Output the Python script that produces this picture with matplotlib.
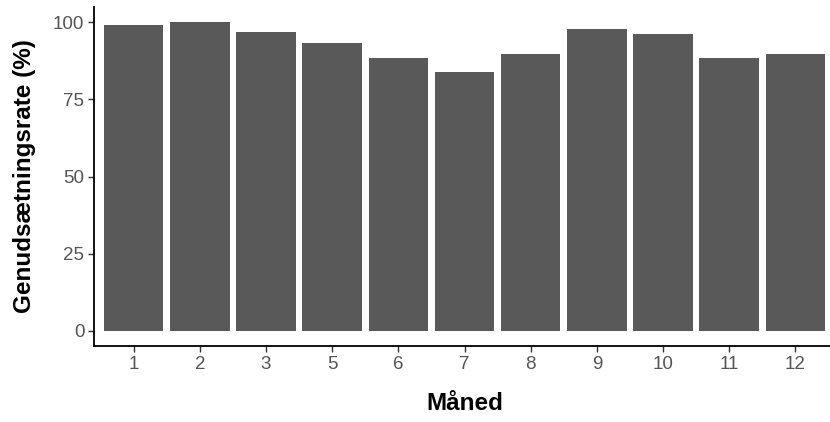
import matplotlib
matplotlib.use("Agg")
import matplotlib.pyplot as plt

months = ["1", "2", "3", "5", "6", "7", "8", "9", "10", "11", "12"]
rates = [99.0, 100.0, 96.8, 93.2, 88.3, 83.8, 89.6, 97.7, 96.1, 88.4, 89.8]
yticks = [0, 25, 50, 75, 100]

plt.rcParams['font.family'] = ['Liberation Sans', 'DejaVu Sans']

fig = plt.figure(figsize=(8.3, 4.22), dpi=100)
W, H = 830, 422
left, right, top, bottom = 94, 835, 7, 346
ax = fig.add_axes([left / W, (H - bottom) / H, (right - left) / W, (bottom - top) / H])

x = list(range(len(months)))
ax.bar(x, rates, width=0.9, color="#595959", edgecolor="none")
ax.set_xlim(-0.6, len(months) - 0.4)
ax.set_ylim(-5, 105)
ax.set_xticks(x)
ax.set_xticklabels(months)
ax.set_yticks(yticks)
ax.set_yticklabels([str(v) for v in yticks])

for s in ["top", "right"]:
    ax.spines[s].set_visible(False)
for s in ["left", "bottom"]:
    ax.spines[s].set_linewidth(1.3)
    ax.spines[s].set_color("black")

ax.tick_params(axis="both", colors="#333333", labelcolor="#555555", labelsize=13.5, length=4, width=1, pad=3)

ax.set_xlabel("Måned", fontsize=17.5, fontweight="bold", labelpad=14)
ax.set_ylabel("Genudsætningsrate (%)", fontsize=17.5, fontweight="bold", labelpad=12)

fig.savefig("out.png", dpi=100)
